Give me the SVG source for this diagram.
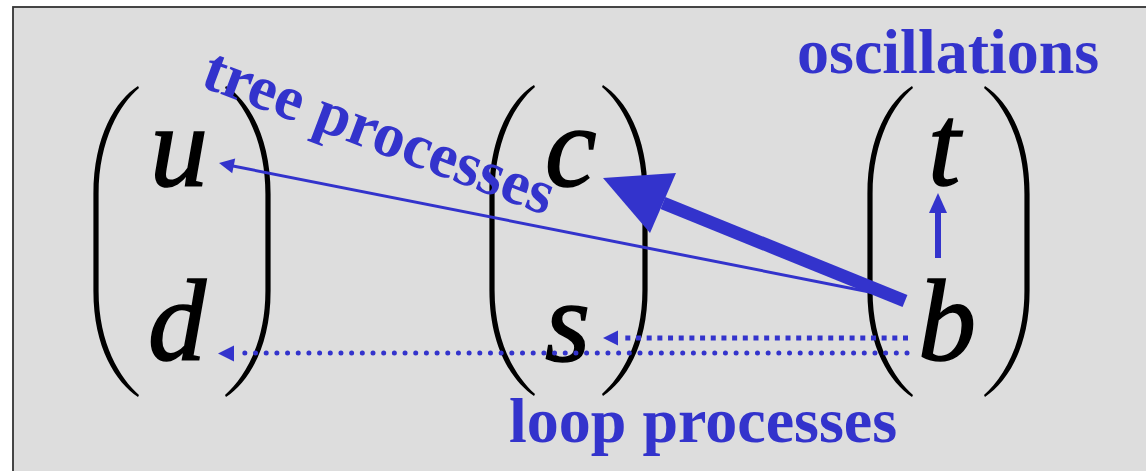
<svg xmlns="http://www.w3.org/2000/svg" xmlns:xlink="http://www.w3.org/1999/xlink" width="1146" height="471" viewBox="0 0 1146 471">
<style>
.var{font-family:"Liberation Serif","Times New Roman",serif;font-style:italic;font-size:116px;fill:#000;stroke:#000;stroke-width:1.6}
.lbl{font-family:"Liberation Serif","Times New Roman",serif;font-weight:bold;font-size:64px;fill:#3333cc}
.thin{stroke:#3333cc;stroke-width:3;fill:none}
.head{fill:#3333cc}
</style>
<defs>
<path id="lp" d="M42,0 C20,14 -2.6,50 -2.6,108 L-2.6,205 C-2.6,262 20,296 42,311 L43,309 C24,292 2.6,258 2.6,205 L2.6,108 C2.6,54 24,18 43,2 Z" fill="#000"/>
</defs>
<rect x="0" y="0" width="1146" height="471" fill="#ffffff"/>
<rect x="13" y="7" width="1145" height="475" fill="#dddddd" stroke="#333333" stroke-width="1.8"/>

<g id="matrix-left">
<use xlink:href="#lp" href="#lp" transform="translate(96,86)"/>
<use xlink:href="#lp" href="#lp" transform="translate(268,86) scale(-1,1)"/>
</g>
<g id="matrix-mid">
<use xlink:href="#lp" href="#lp" transform="translate(492,85)"/>
<use xlink:href="#lp" href="#lp" transform="translate(645,85) scale(-1,1)"/>
</g>
<g id="matrix-right">
<use xlink:href="#lp" href="#lp" transform="translate(870,86)"/>
<use xlink:href="#lp" href="#lp" transform="translate(1027,86) scale(-1,1)"/>
</g>

<g id="node-u"><text class="var" x="150" y="186">u</text></g>
<g id="node-d"><text class="var" x="148" y="360">d</text></g>
<g id="node-c"><text class="var" x="545" y="186">c</text></g>
<g id="node-s"><text class="var" x="545" y="361">s</text></g>
<g id="node-t"><text class="var" x="928" y="185">t</text></g>
<g id="node-b"><text class="var" x="918" y="360">b</text></g>

<g id="label-oscillations"><text class="lbl" x="797" y="73">oscillations</text></g>
<g id="label-loop"><text class="lbl" x="509" y="442">loop processes</text></g>
<g id="label-tree"><text class="lbl" transform="translate(199,86) rotate(20.5)" style="font-size:63px">tree processes</text></g>

<g id="connectors">
<line class="thin" x1="900" y1="298" x2="233" y2="166"/>
<polygon class="head" points="219,163 235.2,158.5 232.2,173.3"/>
<line x1="905" y1="301" x2="663" y2="203" stroke="#3333cc" stroke-width="13"/>
<polygon class="head" points="603,178 676,173 650,233"/>
<line x1="938" y1="258" x2="938" y2="210" stroke="#3333cc" stroke-width="6"/>
<polygon class="head" points="938,193 929,213 947,213"/>
<path d="M907,353 L240,353" stroke="#3333cc" stroke-width="5" stroke-linecap="round" stroke-dasharray="0 10.68" fill="none"/>
<polygon class="head" points="218,353.5 234,345.5 234,361.5"/>
<path d="M908,338 L621,338" stroke="#3333cc" stroke-width="5" stroke-dasharray="5 5.68" fill="none"/>
<polygon class="head" points="603,338 618,330.5 618,345.5"/>
</g>
</svg>
